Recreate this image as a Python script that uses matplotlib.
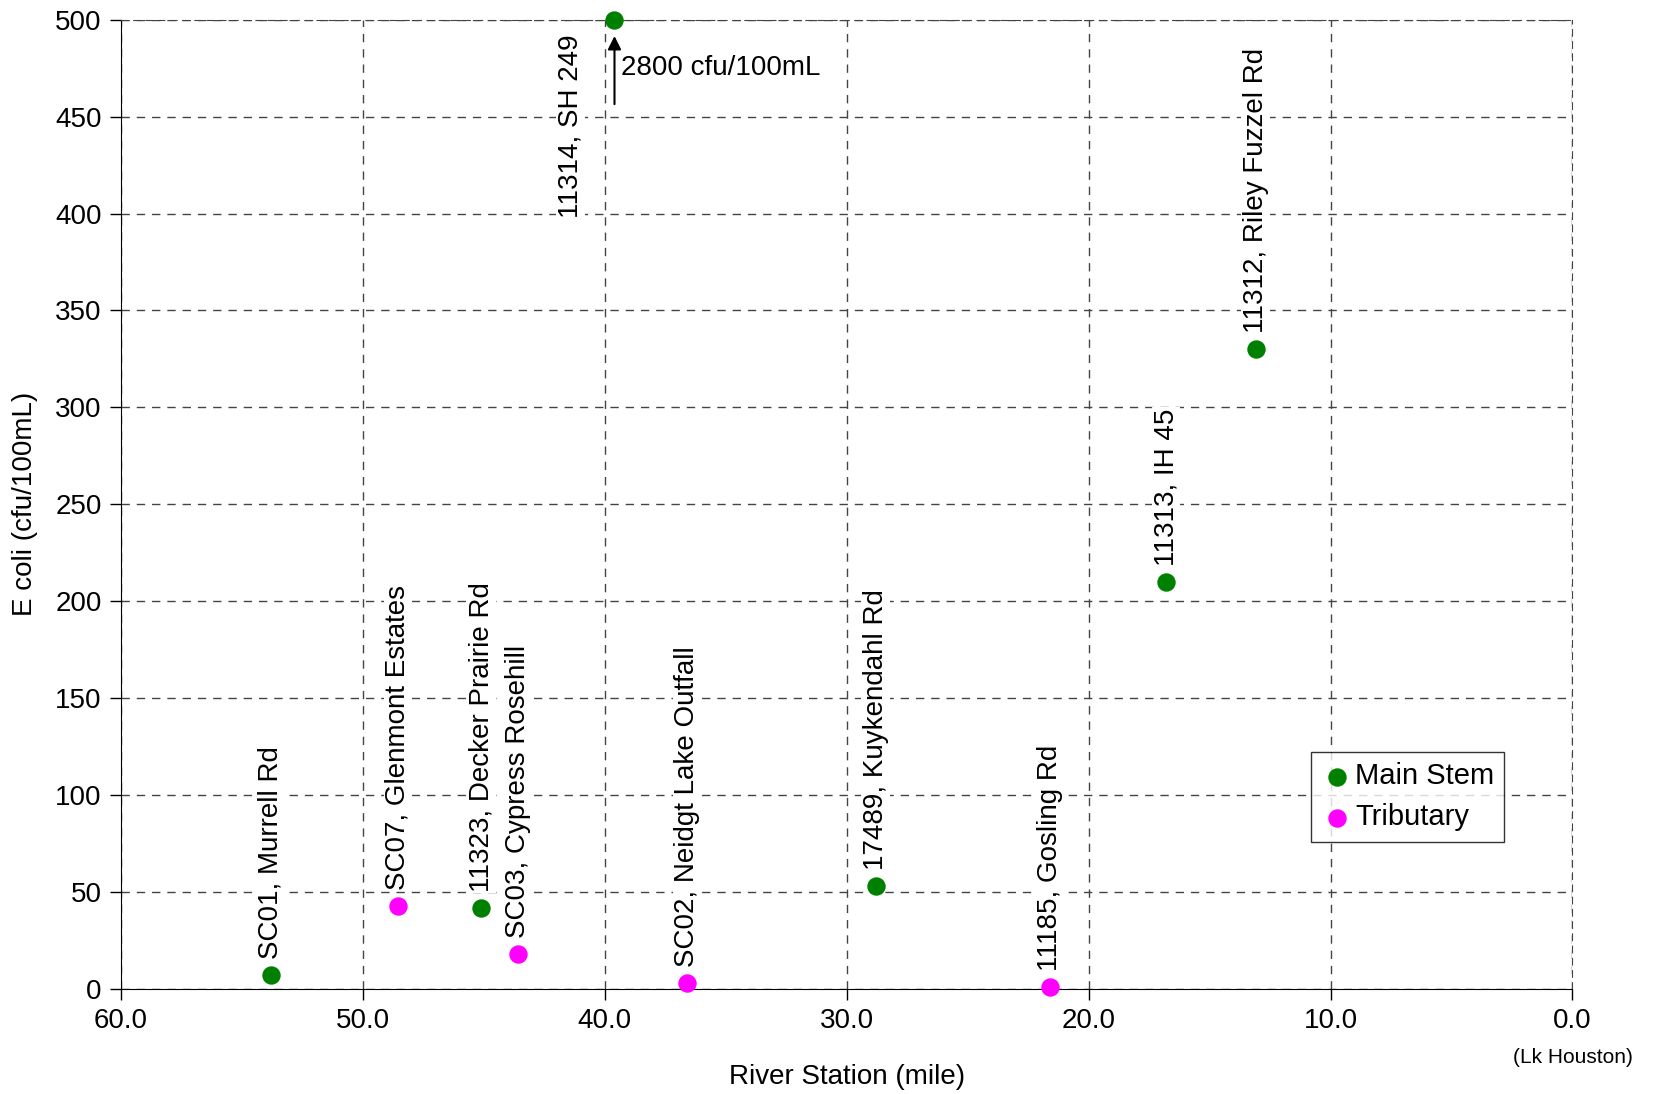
import matplotlib.pyplot as plt

plt.rcParams['font.family'] = ['Liberation Sans', 'DejaVu Sans']

# main stem stations
main_x = [53.8, 45.1, 39.6, 28.8, 16.8, 13.1]
main_y = [7, 42, 500, 53, 210, 330]
main_lbl = ["SC01, Murrell Rd", "11323, Decker Prairie Rd", "11314, SH 249",
            "17489, Kuykendahl Rd", "11313, IH 45", "11312, Riley Fuzzel Rd"]

# tributary stations
trib_x = [48.55, 43.6, 36.6, 21.6]
trib_y = [43, 18, 3, 1]
trib_lbl = ["SC07, Glenmont Estates", "SC03, Cypress Rosehill",
            "SC02, Neidgt Lake Outfall", "11185, Gosling Rd"]

x_ticks = [60, 50, 40, 30, 20, 10, 0]
y_ticks = [0, 50, 100, 150, 200, 250, 300, 350, 400, 450, 500]

FS = 20
dash = (0, (6, 5))
box = dict(facecolor='white', edgecolor='none', pad=1)

fig = plt.figure(figsize=(16.64, 10.94), dpi=100)
ax = fig.add_axes([0.0727, 0.096, 0.8723, 0.886])

ax.scatter(main_x, main_y, s=150, color='#008000', label='Main Stem', zorder=4, clip_on=False)
ax.scatter(trib_x, trib_y, s=150, color='#FF00FF', label='Tributary', zorder=4, clip_on=False)

for x, y, t in zip(main_x, main_y, main_lbl):
    if t.startswith("11314"):
        ax.annotate(t, (x, y), xytext=(-44, -15), textcoords='offset pixels',
                    rotation=90, ha='center', va='top', fontsize=FS, bbox=box, zorder=3)
    else:
        ax.annotate(t, (x, y), xytext=(0, 16), textcoords='offset pixels',
                    rotation=90, ha='center', va='bottom', fontsize=FS, bbox=box, zorder=3)
for x, y, t in zip(trib_x, trib_y, trib_lbl):
    ax.annotate(t, (x, y), xytext=(0, 16), textcoords='offset pixels',
                rotation=90, ha='center', va='bottom', fontsize=FS, bbox=box, zorder=3)

# off-scale value arrow
ax.annotate("", xy=(39.6, 493), xytext=(39.6, 455),
            arrowprops=dict(arrowstyle='-|>', color='black', lw=1.5, mutation_scale=20))
ax.text(39.35, 475, "2800 cfu/100mL", fontsize=FS, ha='left', va='center')

ax.set_xlim(60, 0)
ax.set_ylim(0, 500)
ax.set_xticks(x_ticks)
ax.set_xticklabels([f"{v:.1f}" for v in x_ticks], fontsize=FS)
ax.set_yticks(y_ticks)
ax.set_yticklabels([str(v) for v in y_ticks], fontsize=FS)
ax.text(0, -0.061, "(Lk Houston)", transform=ax.get_xaxis_transform(),
        ha='center', va='top', fontsize=15)

ax.grid(True, linestyle=dash, color='#444444', linewidth=1)
for side in ['top', 'right']:
    ax.spines[side].set_linestyle(dash)
    ax.spines[side].set_color('#444444')
ax.tick_params(direction='out', length=8, width=1, pad=6)

ax.set_xlabel("River Station (mile)", fontsize=FS, labelpad=21)
ax.set_ylabel("E coli (cfu/100mL)", fontsize=FS, labelpad=12)

leg = ax.legend(loc='lower right', bbox_to_anchor=(0.953, 0.152), fontsize=FS + 1,
                frameon=True, fancybox=False, edgecolor='black', handletextpad=0.05,
                borderpad=0.35, labelspacing=0.45, handlelength=1.1, borderaxespad=0)
leg.get_frame().set_linewidth(1)

fig.savefig("out.png", dpi=100)
